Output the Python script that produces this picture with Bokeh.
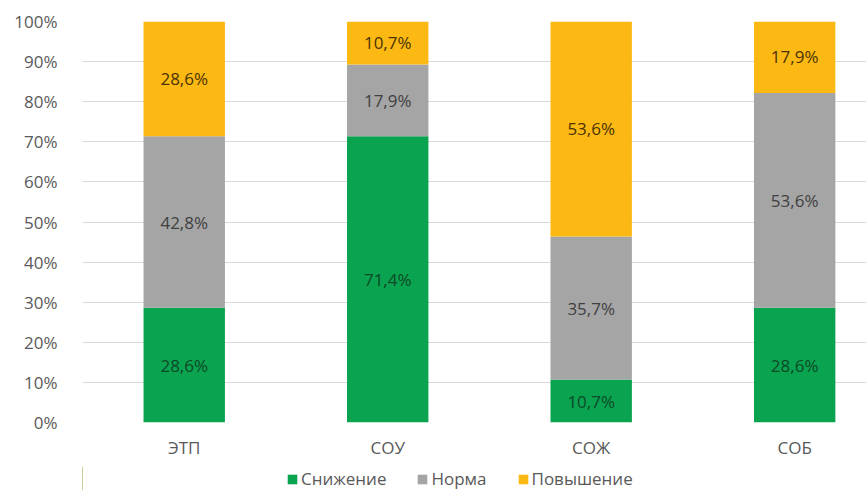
from bokeh.plotting import figure
from bokeh.layouts import column
from bokeh.models import (ColumnDataSource, Range1d, FixedTicker, Legend, LegendItem)
from bokeh.core.properties import value
from bokeh.embed import file_html
from bokeh.resources import INLINE

# Shares of each outcome per indicator, percent
categories = ["ЭТП", "СОУ", "СОЖ", "СОБ"]
series_names = ["Снижение", "Норма", "Повышение"]
decrease = [28.6, 71.4, 10.7, 28.6]
normal = [42.8, 17.9, 35.7, 53.6]
increase = [28.6, 10.7, 53.6, 17.9]
y_ticks = [0, 10, 20, 30, 40, 50, 60, 70, 80, 90, 100]

colors = ["#0aa350", "#a5a5a5", "#fdb913"]
label_colors = ["#0b4a26", "#3f3f3f", "#4a3205"]
FONT = "Open Sans"
FS = "17px"

xs = list(range(len(categories)))
src = ColumnDataSource(dict(x=xs, dec=decrease, nor=normal, inc=increase))

p = figure(width=866, height=466, output_backend="svg", toolbar_location=None,
           x_range=Range1d(-0.5, 3.353), y_range=Range1d(0, 100),
           min_border_top=21, min_border_left=82, min_border_right=0,
           min_border_bottom=44)
p.outline_line_color = None
p.background_fill_color = "white"
p.border_fill_color = "white"

p.vbar_stack(["dec", "nor", "inc"], x="x", width=0.40, source=src,
             color=colors, line_color=None)

# data labels centred in each segment
lx, ly, lt, lc = [], [], [], []
for i in xs:
    base = 0.0
    for k, vals in enumerate([decrease, normal, increase]):
        v = vals[i]
        lx.append(i)
        ly.append(base + v / 2)
        lt.append(f"{v:.1f}%".replace(".", ","))
        lc.append(label_colors[k])
        base += v
p.text(x="x", y="y", text="t", text_color="c",
       source=ColumnDataSource(dict(x=lx, y=ly, t=lt, c=lc)),
       text_align="center", text_baseline="middle",
       text_font=value(FONT), text_font_size=FS)

# axes
p.yaxis.ticker = FixedTicker(ticks=y_ticks)
p.yaxis.major_label_overrides = {t: f"{t}%" for t in y_ticks}
p.yaxis.axis_line_color = None
p.yaxis.major_tick_line_color = None
p.yaxis.minor_tick_line_color = None
p.yaxis.major_label_text_font = FONT
p.yaxis.major_label_text_font_size = FS
p.yaxis.major_label_text_color = "#595959"
p.yaxis.major_label_standoff = 19

p.xaxis.ticker = FixedTicker(ticks=xs)
p.xaxis.major_label_overrides = {i: c for i, c in enumerate(categories)}
p.xaxis.axis_line_color = None
p.xaxis.major_tick_line_color = None
p.xaxis.minor_tick_line_color = None
p.xaxis.major_label_text_font = FONT
p.xaxis.major_label_text_font_size = FS
p.xaxis.major_label_text_color = "#595959"
p.xaxis.major_label_standoff = 7

p.xgrid.grid_line_color = None
p.ygrid.grid_line_color = "#d9d9d9"
p.ygrid.grid_line_width = 1

# legend strip under the chart; swatch glyphs sit outside the visible range
leg = figure(width=866, height=24, output_backend="svg", toolbar_location=None,
             x_range=Range1d(0, 1), y_range=Range1d(0, 1),
             x_axis_type=None, y_axis_type=None,
             min_border_top=0, min_border_left=0, min_border_right=0, min_border_bottom=0)
leg.outline_line_color = None
leg.xgrid.visible = False
leg.ygrid.visible = False
swatches = [leg.vbar(x=[-10], top=[1], width=0.1, color=c, line_color=None) for c in colors]
legend = Legend(items=[LegendItem(label=n, renderers=[r]) for n, r in zip(series_names, swatches)],
                orientation="horizontal", location=(204, 0),
                label_text_font=FONT, label_text_font_size=FS,
                label_text_color="#595959", glyph_width=12, glyph_height=12,
                label_standoff=3, spacing=30, padding=0, margin=0,
                border_line_color=None, background_fill_alpha=0)
leg.add_layout(legend, "center")

open("out.html", "w").write(file_html(column(p, leg, spacing=0), INLINE))
